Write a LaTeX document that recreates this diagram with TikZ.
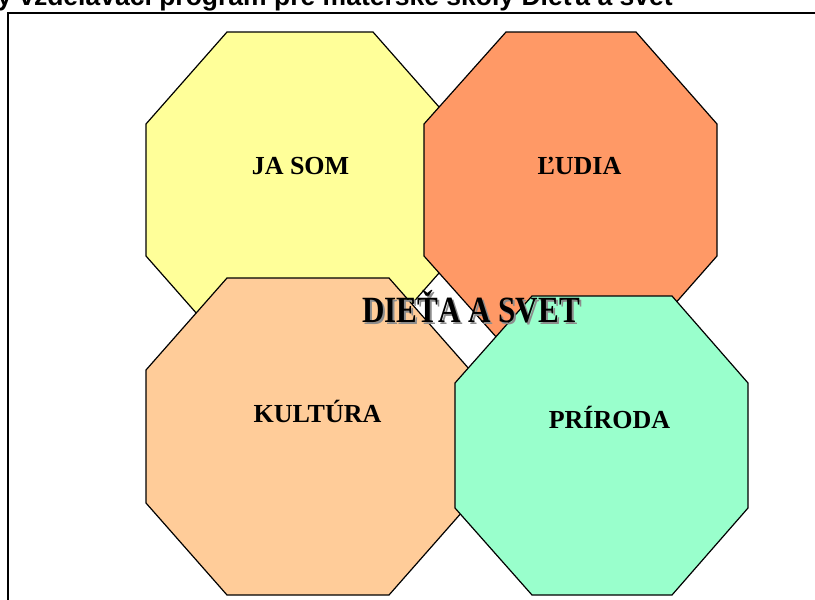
\documentclass[tikz,border=0pt]{standalone}
\usepackage{fontspec}
\setmainfont{Liberation Serif}
\newfontfamily\titlefont{Liberation Sans}
\usepackage{xcolor}
\usetikzlibrary{calc, positioning}

\definecolor{jasom}{HTML}{FFFF99}
\definecolor{ludia}{HTML}{FF9966}
\definecolor{kultura}{HTML}{FFCC99}
\definecolor{priroda}{HTML}{99FFCC}

\begin{document}
\begin{tikzpicture}[x=1pt,y=-1pt,
		octa/.style={draw=black, line width=1.2pt, line join=miter},
		lbl/.style={anchor=base, inner sep=0pt, font=\fontsize{26}{30}\selectfont\bfseries},
		big/.style={anchor=base, inner sep=0pt, font=\fontsize{37}{40}\selectfont\bfseries}]
				\useasboundingbox (0,0) rectangle (815,600);
				% frame and page heading
				\node[anchor=base east, inner sep=0pt, font=\titlefont\fontsize{26.5}{30}\selectfont\bfseries] (head) at (673,5) {ý vzdelávací program pre materské školy Dieťa a svet};
				\coordinate (fa) at (8,600);
				\coordinate (fb) at (8,13);
				\coordinate (fc) at (815,13);
				\draw[line width=2pt] (fa) -- (fb) -- (fc);
				
				\filldraw[octa, fill=jasom] (227,32) -- (373,32) -- (454,124) -- (454,256) -- (373,348) -- (227,348) -- (146,256) -- (146,124) -- cycle;
				\filldraw[octa, fill=ludia] (506,32) -- (636,32) -- (717,124) -- (717,256) -- (636,348) -- (506,348) -- (424,256) -- (424,124) -- cycle;
				\filldraw[octa, fill=kultura] (227,278) -- (389,278) -- (470,370) -- (470,503) -- (389,595) -- (227,595) -- (146,503) -- (146,370) -- cycle;
				\filldraw[octa, fill=priroda] (532,296) -- (672,296) -- (748,383) -- (748,508) -- (672,595) -- (532,595) -- (455,508) -- (455,383) -- cycle;
				
				\node[lbl] (jasom) at (300.5,174) {JA SOM};
				\node[lbl] (ludia) at (579.5,174) {ĽUDIA};
				\node[lbl] (kultura) at (317.5,422) {KULTÚRA};
				\node[lbl] (priroda) at (609.5,428) {PRÍRODA};
				
				% centre title with its shadow
				\node[big, text=black!45] (stien) at (473,324) {\scalebox{0.84}[1]{DIEŤA A SVET}};
				\node[big] (dieta) at (471,322) {\scalebox{0.84}[1]{DIEŤA A SVET}};
			\end{tikzpicture}
\end{document}
